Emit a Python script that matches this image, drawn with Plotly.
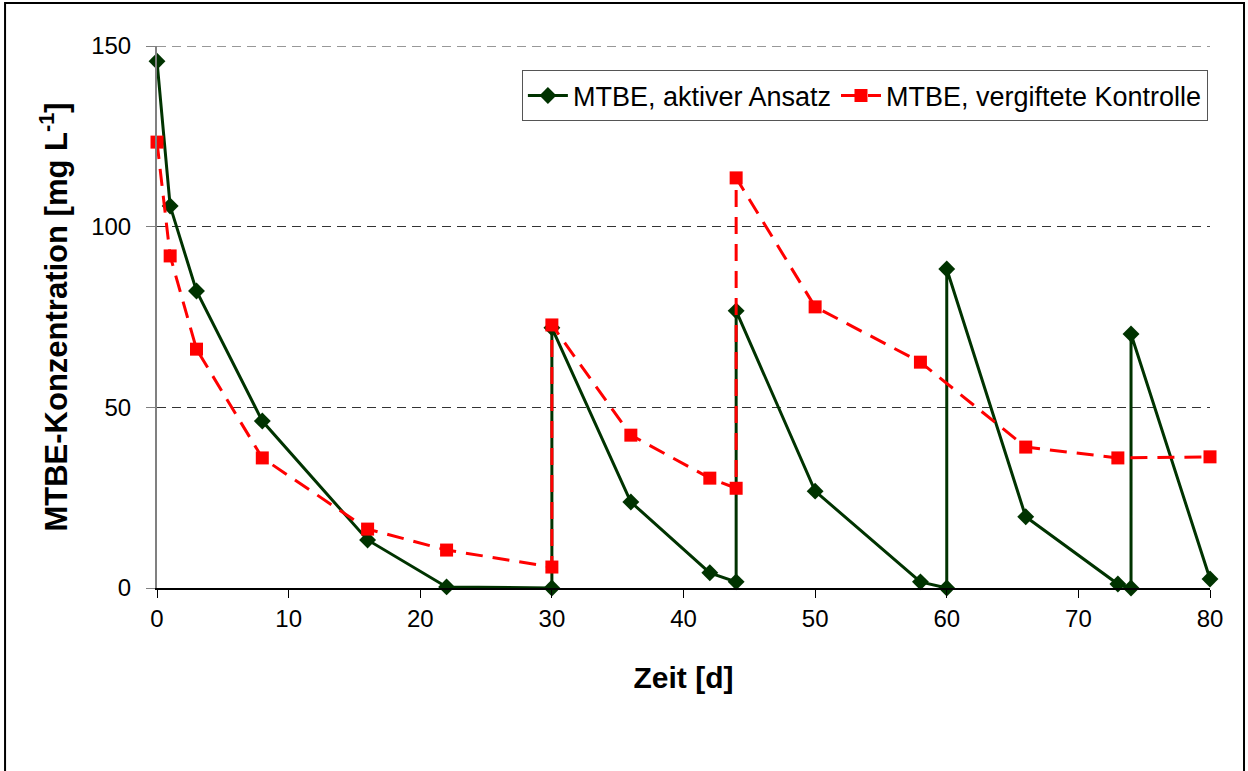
import plotly.graph_objects as go

# Active batch (green)
days_active = [0, 1, 3, 8, 16, 22, 30, 30, 36, 42, 44, 44, 50, 58, 60, 60, 66, 73, 74, 74, 80]
mtbe_active = [145.8, 105.7, 82.2, 46.2, 13.3, 0.3, 0.0, 72.0, 23.8, 4.2, 1.7, 76.7, 26.8, 1.7, 0.0, 88.3, 19.7, 1.1, 0.0, 70.3, 2.5]

# Poisoned control (red)
days_control = [0, 1, 3, 8, 16, 22, 30, 30, 36, 42, 44, 44, 50, 58, 66, 73, 80]
mtbe_control = [123.4, 91.9, 66.1, 36.0, 16.3, 10.5, 5.8, 72.8, 42.3, 30.4, 27.6, 113.5, 77.8, 62.5, 39.0, 36.0, 36.3]

x_ticks = [0, 10, 20, 30, 40, 50, 60, 70, 80]
y_ticks = [0, 50, 100, 150]

fig = go.Figure()
fig.add_trace(go.Scatter(
    x=days_active, y=mtbe_active, mode="lines+markers",
    name="MTBE, aktiver Ansatz",
    line=dict(color="#003300", width=3),
    marker=dict(symbol="diamond", size=13, color="#003300"),
    cliponaxis=False,
))
fig.add_trace(go.Scatter(
    x=days_control, y=mtbe_control, mode="lines+markers",
    name="MTBE, vergiftete Kontrolle",
    line=dict(color="#FF0000", width=3, dash="17px,10px"),
    marker=dict(symbol="square", size=13, color="#FF0000"),
    cliponaxis=False,
))

fig.update_layout(
    width=1248, height=771,
    margin=dict(l=157, r=38, t=46, b=183),
    paper_bgcolor="white", plot_bgcolor="white",
    font=dict(family="Liberation Sans, Arial, sans-serif", color="black", size=24),
    showlegend=True,
    legend=dict(
        orientation="h", x=0.998, xanchor="right", y=0.955, yanchor="top",
        bgcolor="white", bordercolor="#555555", borderwidth=1,
        font=dict(size=27), itemwidth=40, tracegroupgap=0,
    ),
    xaxis=dict(
        range=[0, 80], tickvals=x_ticks, ticks="outside", ticklen=8,
        tickcolor="black", showline=True, linecolor="black", linewidth=1.5,
        showgrid=False, zeroline=False, tickfont=dict(size=24),
        title=dict(text="<b>Zeit [d]</b>", font=dict(size=30), standoff=36),
    ),
    yaxis=dict(
        range=[0, 150], tickvals=y_ticks, ticks="outside", ticklen=9,
        tickcolor="#808080", showline=True, linecolor="#808080", linewidth=2,
        showgrid=True, gridcolor="#333333", griddash="9px,6px", gridwidth=1,
        zeroline=False, tickfont=dict(size=24), ticklabelstandoff=10,
        title=dict(text="<b>MTBE-Konzentration [mg L<sup>-1</sup>]</b>", font=dict(size=31), standoff=14),
    ),
    shapes=[
        dict(
            type="rect", xref="paper", yref="paper",
            x0=-0.1443, x1=1.0323, y0=-0.6, y1=1.0793,
            line=dict(color="black", width=2), fillcolor="rgba(0,0,0,0)", layer="below",
        ),
        dict(
            type="line", xref="paper", yref="y", x0=0, x1=1, y0=150, y1=150,
            line=dict(color="#333333", width=1, dash="9px,6px"), layer="below",
        ),
    ],
)

fig.write_html("out.html")
